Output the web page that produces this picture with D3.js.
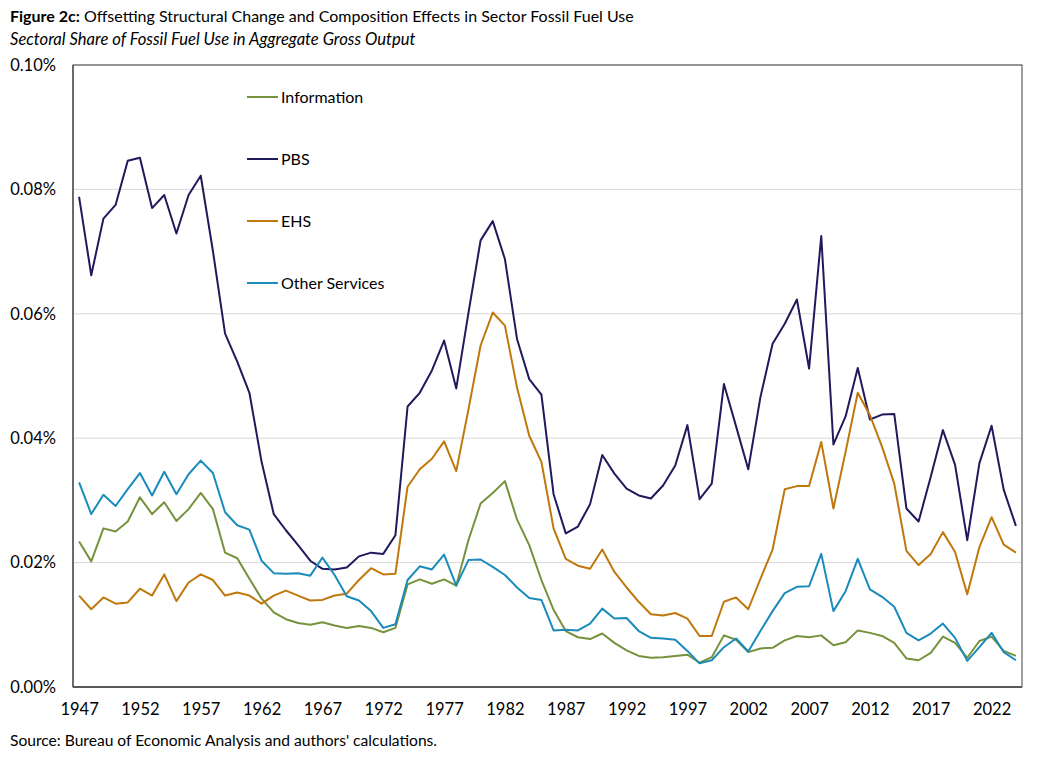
<!DOCTYPE html>
<html>
<head>
<meta charset="utf-8">
<script src="https://cdn.jsdelivr.net/npm/d3@7"></script>
<style>
  body { margin: 0; background: #fff; }
  svg text { font-family: Lato, "Noto Sans", sans-serif; fill: #000; }
</style>
</head>
<body>
<svg id="chart" width="1044" height="758"></svg>
<script>
var years = d3.range(1947, 2025);

var information = [
  0.0234, 0.0202, 0.0255, 0.0250, 0.0266, 0.0305, 0.0278, 0.0297, 0.0267, 0.0286,
  0.0312, 0.0286, 0.0216, 0.0207, 0.0174, 0.0142, 0.0120, 0.0109, 0.0103, 0.0100,
  0.0104, 0.0099, 0.0095, 0.0098, 0.0095, 0.0088, 0.0095, 0.0165, 0.0173, 0.0166,
  0.0173, 0.0163, 0.0236, 0.0295, 0.0312, 0.0331, 0.0269, 0.0228, 0.0172, 0.0124,
  0.0090, 0.0080, 0.0077, 0.0086, 0.0071, 0.0059, 0.0050, 0.0047, 0.0048, 0.0050,
  0.0052, 0.0039, 0.0048, 0.0083, 0.0076, 0.0056, 0.0062, 0.0063, 0.0075, 0.0082,
  0.0080, 0.0083, 0.0067, 0.0072, 0.0091, 0.0087, 0.0082, 0.0071, 0.0046, 0.0043,
  0.0055, 0.0081, 0.0071, 0.0047, 0.0074, 0.0081, 0.0058, 0.0050
];

var pbs = [
  0.0788, 0.0662, 0.0753, 0.0775, 0.0846, 0.0851, 0.0770, 0.0791, 0.0729, 0.0791,
  0.0822, 0.0701, 0.0568, 0.0523, 0.0473, 0.0362, 0.0278, 0.0252, 0.0228, 0.0203,
  0.0190, 0.0189, 0.0192, 0.0210, 0.0216, 0.0214, 0.0244, 0.0451, 0.0473, 0.0509,
  0.0557, 0.0480, 0.0601, 0.0718, 0.0749, 0.0688, 0.0559, 0.0495, 0.0470, 0.0310,
  0.0247, 0.0258, 0.0294, 0.0373, 0.0343, 0.0319, 0.0308, 0.0303, 0.0324, 0.0356,
  0.0421, 0.0302, 0.0327, 0.0487, 0.0419, 0.0350, 0.0466, 0.0552, 0.0584, 0.0623,
  0.0512, 0.0725, 0.0390, 0.0435, 0.0513, 0.0430, 0.0438, 0.0439, 0.0287, 0.0266,
  0.0338, 0.0413, 0.0357, 0.0236, 0.0360, 0.0420, 0.0317, 0.0259
];

var ehs = [
  0.0147, 0.0125, 0.0144, 0.0134, 0.0136, 0.0158, 0.0147, 0.0181, 0.0138, 0.0168,
  0.0181, 0.0172, 0.0147, 0.0152, 0.0147, 0.0134, 0.0147, 0.0155, 0.0147, 0.0139,
  0.0140, 0.0147, 0.0150, 0.0172, 0.0191, 0.0181, 0.0182, 0.0322, 0.0350, 0.0367,
  0.0395, 0.0347, 0.0446, 0.0549, 0.0602, 0.0581, 0.0481, 0.0404, 0.0362, 0.0255,
  0.0206, 0.0195, 0.0190, 0.0221, 0.0185, 0.0160, 0.0137, 0.0117, 0.0115, 0.0119,
  0.0110, 0.0082, 0.0082, 0.0137, 0.0144, 0.0125, 0.0174, 0.0221, 0.0318, 0.0323,
  0.0323, 0.0394, 0.0287, 0.0378, 0.0473, 0.0437, 0.0386, 0.0327, 0.0219, 0.0196,
  0.0214, 0.0249, 0.0217, 0.0149, 0.0225, 0.0273, 0.0229, 0.0216
];

var otherServices = [
  0.0329, 0.0278, 0.0309, 0.0291, 0.0318, 0.0344, 0.0308, 0.0346, 0.0310, 0.0342,
  0.0364, 0.0344, 0.0281, 0.0260, 0.0253, 0.0203, 0.0183, 0.0182, 0.0183, 0.0179,
  0.0208, 0.0180, 0.0146, 0.0139, 0.0122, 0.0095, 0.0101, 0.0172, 0.0194, 0.0189,
  0.0213, 0.0163, 0.0204, 0.0205, 0.0193, 0.0180, 0.0160, 0.0143, 0.0140, 0.0091,
  0.0092, 0.0091, 0.0102, 0.0126, 0.0110, 0.0111, 0.0090, 0.0079, 0.0078, 0.0076,
  0.0058, 0.0038, 0.0043, 0.0064, 0.0078, 0.0057, 0.0090, 0.0122, 0.0151, 0.0161,
  0.0162, 0.0214, 0.0122, 0.0154, 0.0206, 0.0157, 0.0145, 0.0129, 0.0087, 0.0075,
  0.0086, 0.0102, 0.0079, 0.0042, 0.0064, 0.0087, 0.0056, 0.0043
];

var seriesNames = ['Information', 'PBS', 'EHS', 'Other Services'];
var seriesColors = ['#76923C', '#1F1A5C', '#C0780E', '#1A8BBB'];
var yTicks = [0, 0.02, 0.04, 0.06, 0.08, 0.10];
var xTickYears = d3.range(1947, 2025, 5);

(function() {
    var svg = d3.select('#chart');
    var plotLeft = 73, plotRight = 1022, plotTop = 65, plotBottom = 687;

    var x = d3.scalePoint().domain(years).range([plotLeft, plotRight]).padding(0.5);
    var y = d3.scaleLinear().domain([0, 0.10]).range([plotBottom, plotTop]);

    // titles
    var title = svg.append('text').attr('x', 10).attr('y', 22).style('font-size', '16px');
    title.append('tspan').style('font-weight', 'bold').text('Figure 2c:');
    title.append('tspan').text(' Offsetting Structural Change and Composition Effects in Sector Fossil Fuel Use');
    svg.append('text').attr('x', 10).attr('y', 45).style('font-size', '16.6px').style('font-style', 'italic')
       .text('Sectoral Share of Fossil Fuel Use in Aggregate Gross Output');

    // gridlines
    svg.append('g').selectAll('line').data(yTicks.slice(1)).enter().append('line')
       .attr('x1', plotLeft).attr('x2', plotRight)
       .attr('y1', function(d) { return y(d); }).attr('y2', function(d) { return y(d); })
       .attr('stroke', '#d9d9d9').attr('stroke-width', 1);

    // y axis
    var yAxis = d3.axisLeft(y).tickValues(yTicks).tickSize(0).tickPadding(17)
                  .tickFormat(function(d) { return d3.format('.2f')(d) + '%'; });
    svg.append('g').attr('transform', 'translate(' + plotLeft + ',0)').call(yAxis)
       .call(function(g) {
           g.select('.domain').remove();
           g.selectAll('text').style('font-size', '16.5px').style('font-family', 'Lato, sans-serif').attr('fill', '#000');
       });

    // x axis
    var xAxis = d3.axisBottom(x).tickValues(xTickYears).tickSize(0).tickPadding(16);
    svg.append('g').attr('transform', 'translate(0,' + plotBottom + ')').call(xAxis)
       .call(function(g) {
           g.select('.domain').remove();
           g.selectAll('text').style('font-size', '16.5px').style('font-family', 'Lato, sans-serif').attr('fill', '#000');
       });

    // frame
    svg.append('rect').attr('x', plotLeft).attr('y', plotTop)
       .attr('width', plotRight - plotLeft).attr('height', plotBottom - plotTop)
       .attr('fill', 'none').attr('stroke', '#404040').attr('stroke-width', 1);
    svg.append('line').attr('x1', plotLeft).attr('x2', plotRight).attr('y1', plotBottom).attr('y2', plotBottom)
       .attr('stroke', '#595959').attr('stroke-width', 2);
    svg.append('line').attr('x1', plotLeft).attr('x2', plotLeft).attr('y1', plotTop).attr('y2', plotBottom)
       .attr('stroke', '#595959').attr('stroke-width', 1.5);

    // lines
    var allSeries = [information, pbs, ehs, otherServices];
    var line = d3.line().x(function(d, i) { return x(years[i]); }).y(function(d) { return y(d); });
    svg.append('g').selectAll('path').data(allSeries).enter().append('path')
       .attr('d', line).attr('fill', 'none')
       .attr('stroke', function(d, i) { return seriesColors[i]; })
       .attr('stroke-width', 2).attr('stroke-linejoin', 'round');

    // legend
    var legendY = [97, 159, 221, 283];
    var legend = svg.append('g').selectAll('g').data(seriesNames).enter().append('g')
       .attr('transform', function(d, i) { return 'translate(247,' + legendY[i] + ')'; });
    legend.append('line').attr('x1', 0).attr('x2', 31).attr('y1', 0).attr('y2', 0)
       .attr('stroke', function(d, i) { return seriesColors[i]; }).attr('stroke-width', 2);
    legend.append('text').attr('x', 34).attr('y', 5.5).style('font-size', '16px').text(function(d) { return d; });

    // source
    svg.append('text').attr('x', 10).attr('y', 746).style('font-size', '15.6px')
       .text("Source: Bureau of Economic Analysis and authors' calculations.");
})();
</script>
</body>
</html>
